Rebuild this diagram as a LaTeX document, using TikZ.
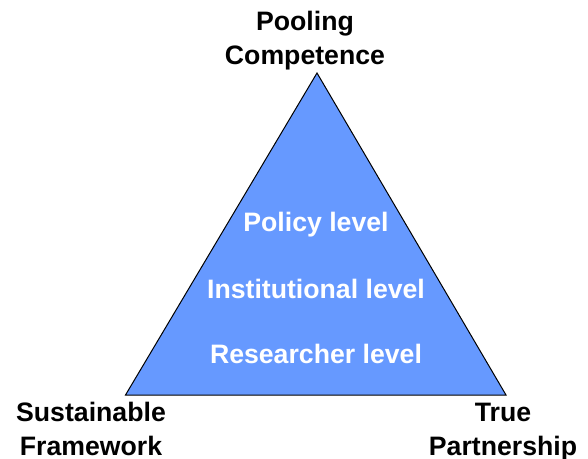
\documentclass[tikz,border=0pt]{standalone}
\usepackage{fontspec}
\setmainfont{Liberation Sans}
\usetikzlibrary{positioning}
\definecolor{pyramidblue}{HTML}{6699FF}

\begin{document}
\begin{tikzpicture}[x=0.75pt,y=-0.75pt,
		corner/.style={align=center,inner sep=0pt,anchor=base,
			font=\fontsize{20}{25.5}\selectfont\bfseries},
		level/.style={text=white,inner sep=0pt,anchor=base,
			font=\fontsize{20}{24}\selectfont\bfseries}]
		\useasboundingbox (0,0) rectangle (588,459);

		\coordinate (top) at (317,73);
		\coordinate (left) at (125.5,395);
		\coordinate (right) at (506,395);
		\draw[fill=pyramidblue,line width=0.75pt] (top) -- (left) -- (right) -- cycle;

		\node[corner] (pool) at (305,65) {Pooling\\Competence};
		\node[corner] (sust) at (91,455) {Sustainable\\Framework};
		\node[corner] (part) at (503,455) {True\\Partnership};

		\node[level] (policy) at (316,232) {Policy level};
		\node[level] (inst) at (316,298) {Institutional level};
		\node[level] (res) at (316,363) {Researcher level};
	\end{tikzpicture}
\end{document}
